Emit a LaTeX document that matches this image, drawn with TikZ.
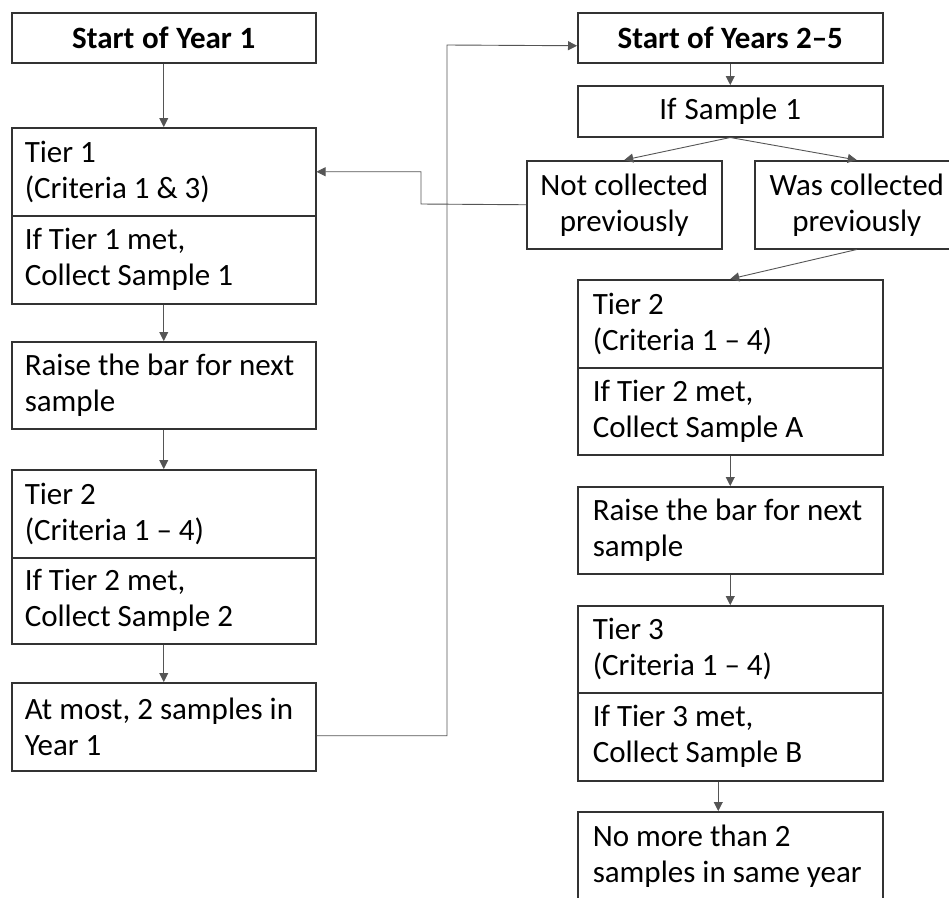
\documentclass[tikz,border=0pt]{standalone}
\usepackage{fontspec}
\setmainfont{Carlito}
\usepackage{tikz}
\usetikzlibrary{positioning, calc, arrows.meta}
\definecolor{FlowLine}{HTML}{333333}
\definecolor{FlowArrow}{HTML}{555555}

\tikzset{
  flowbox/.style={draw=FlowLine, line width=1.5pt, anchor=north west, inner xsep=13pt, inner ysep=0pt,
    font=\fontsize{31}{36}\selectfont, align=left,
    execute at begin node={\spaceskip=7pt plus 1pt minus 1pt\relax}},
  rightbox/.style={flowbox, inner xsep=15pt, text width=275pt},
  leftbox/.style={flowbox, text width=278pt},
  titlebox/.style={font=\fontsize{31}{36}\selectfont\bfseries, align=center},
  flowarrow/.style={draw=FlowArrow, line width=0.9pt, -{Triangle[length=9pt,width=9pt]}}
}

\begin{document}
\begin{tikzpicture}[x=1pt, y=-1pt]
  \useasboundingbox (0,0) rectangle (949,897);
  % Year 1 column
  \node[leftbox, titlebox, minimum height=50pt] (start1) at (11,12) {Start of Year 1};
  \node[leftbox, minimum height=88pt] (tier1top) at (11,127) {Tier 1\\(Criteria 1 \& 3)};
  \node[leftbox, minimum height=88pt] (tier1bot) at (11,215) {If Tier 1 met,\\Collect Sample 1};
  \node[leftbox, minimum height=87pt] (raise1) at (11,341) {Raise the bar for next\\sample};
  \node[leftbox, minimum height=88pt] (tier2top) at (11,469) {Tier 2\\(Criteria 1 – 4)};
  \node[leftbox, minimum height=86pt] (tier2bot) at (11,557) {If Tier 2 met,\\Collect Sample 2};
  \node[leftbox, minimum height=88pt] (atmost) at (11,682) {At most, 2 samples in\\Year 1};

  % Years 2-5 column
  \node[rightbox, titlebox, minimum height=50pt] (start2) at (577,12) {Start of Years 2–5};
  \node[rightbox, align=center, minimum height=51pt] (ifsample) at (577,85) {If Sample 1};
  \node[flowbox, align=center, inner xsep=0pt, text width=195pt, minimum height=88pt] (notcoll) at (526,160) {Not collected\\previously};
  \node[flowbox, align=center, inner xsep=0pt, text width=204pt, minimum height=88pt] (wascoll) at (754,160) {Was collected\\previously};
  \node[rightbox, minimum height=88pt] (tier2rtop) at (577,279) {Tier 2\\(Criteria 1 – 4)};
  \node[rightbox, minimum height=87pt] (tier2rbot) at (577,367) {If Tier 2 met,\\Collect Sample A};
  \node[rightbox, minimum height=87pt] (raise2) at (577,486) {Raise the bar for next\\sample};
  \node[rightbox, minimum height=87pt] (tier3top) at (577,605) {Tier 3\\(Criteria 1 – 4)};
  \node[rightbox, minimum height=88pt] (tier3bot) at (577,692) {If Tier 3 met,\\Collect Sample B};
  \node[rightbox, minimum height=89pt] (nomore) at (577,811) {No more than 2\\samples in same year};

  % straight links
  \foreach \from/\to in {start1/tier1top, tier1bot/raise1, raise1/tier2top, tier2bot/atmost,
    start2/ifsample, ifsample/notcoll, ifsample/wascoll, wascoll/tier2rtop,
    tier2rbot/raise2, raise2/tier3top}
    \draw[flowarrow] (\from.south) -- (\to.north);
  \draw[flowarrow] ([xshift=-12pt]tier3bot.south) -- ([xshift=-12pt]nomore.north);

  % loops between the columns
  \coordinate (loopx) at (447,45);
  \coordinate (backx) at (421,204);
  \draw[flowarrow] ([yshift=-9pt]atmost.east) -| (loopx) -- ([yshift=-8pt]start2.west);
  \draw[flowarrow] (notcoll.west) -- (backx) |- (tier1top.east);
\end{tikzpicture}
\end{document}
